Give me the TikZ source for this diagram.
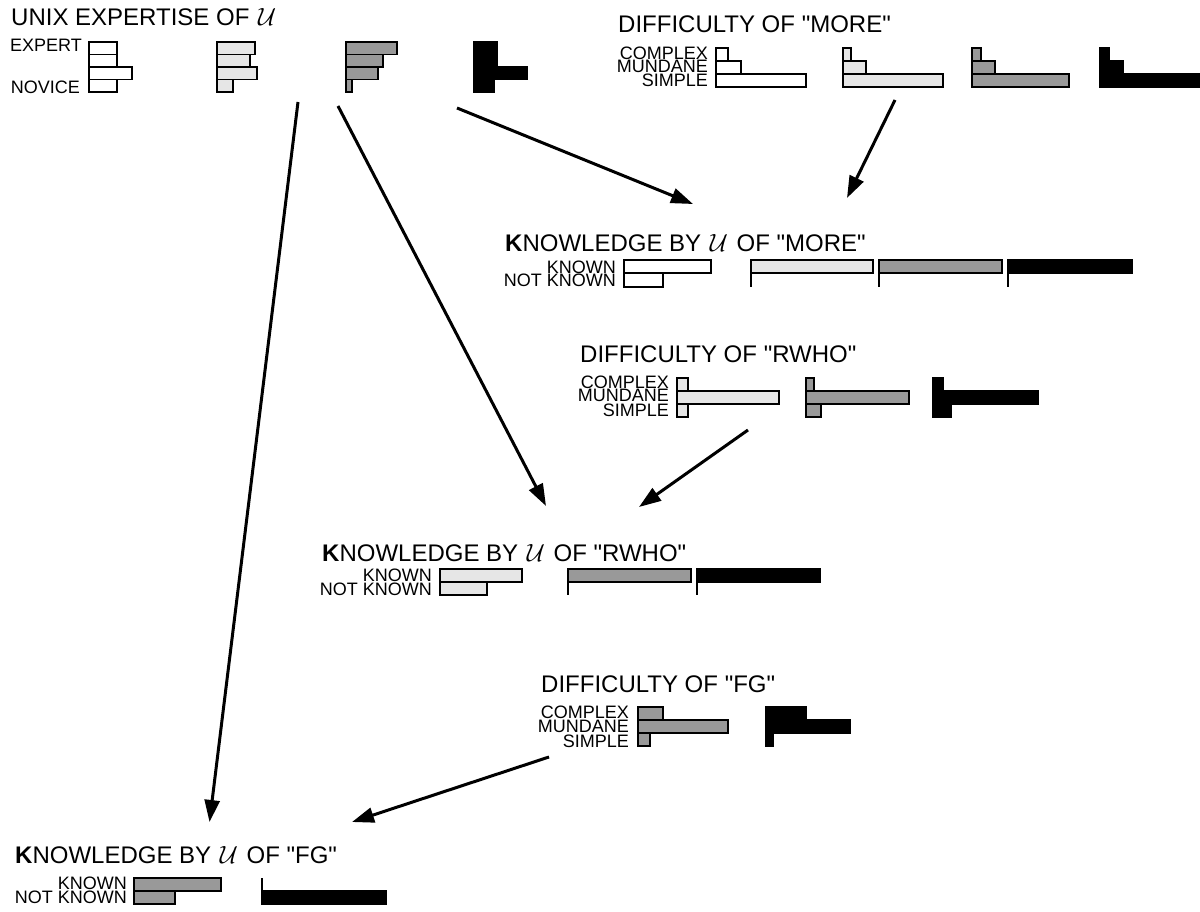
\documentclass[tikz,border=0pt]{standalone}
\usepackage{fontspec}
\setmainfont{Liberation Sans}
\usetikzlibrary{arrows.meta}
\definecolor{lightfill}{HTML}{E6E6E6}
\definecolor{midfill}{HTML}{999999}
\newcommand{\qq}{\textquotedbl}
\newcommand{\UU}{\hspace{2pt}$\mathcal{U}$\hspace{2pt}}
\begin{document}
\begin{tikzpicture}[x=1pt,y=-1pt,
  bar/.style={draw=black,line width=1.8pt},
  wbar/.style={bar,fill=white},
  lbar/.style={bar,fill=lightfill},
  gbar/.style={bar,fill=midfill},
  bbar/.style={bar,fill=black},
  tick/.style={line width=1.8pt},
  ttl/.style={font=\fontsize{24}{28}\selectfont,anchor=base west,inner sep=0pt},
  lbl/.style={font=\fontsize{18}{18}\selectfont,anchor=base east,inner sep=0pt},
  arr/.style={line width=3pt,-{Triangle[length=22pt,width=15pt]}}]
\useasboundingbox (0,0) rectangle (1200,912);

% ---------- UNIX expertise ----------
\node[ttl] (t1) at (11,26) {UNIX EXPERTISE OF \UU{}};
\node[lbl] (l1a) at (82,52) {EXPERT};
\node[lbl] (l1b) at (80,94) {NOVICE};
\draw[wbar] (89,42) rectangle (117,54.5);
\draw[wbar] (89,54.5) rectangle (117,67);
\draw[wbar] (89,67) rectangle (132,79.5);
\draw[wbar] (89,79.5) rectangle (117,92);
\draw[lbar] (217,42) rectangle (255,54.5);
\draw[lbar] (217,54.5) rectangle (250,67);
\draw[lbar] (217,67) rectangle (257,79.5);
\draw[lbar] (217,79.5) rectangle (233,92);
\draw[gbar] (346,42) rectangle (397,54.5);
\draw[gbar] (346,54.5) rectangle (383,67);
\draw[gbar] (346,67) rectangle (378,79.5);
\draw[gbar] (346,79.5) rectangle (352,92);
\draw[bbar] (474,42) rectangle (497,54.5);
\draw[bbar] (474,54.5) rectangle (497,67);
\draw[bbar] (474,67) rectangle (527,79.5);
\draw[bbar] (474,79.5) rectangle (494,92);

% ---------- Difficulty of MORE ----------
\node[ttl] (t2) at (618,33) {DIFFICULTY OF \qq MORE\qq};
\node[lbl] (l2a) at (708,60) {COMPLEX};
\node[lbl] (l2b) at (708,73) {MUNDANE};
\node[lbl] (l2c) at (708,87) {SIMPLE};
\draw[wbar] (716,48) rectangle (728,61);
\draw[wbar] (716,61) rectangle (741,74);
\draw[wbar] (716,74) rectangle (806,87);
\draw[lbar] (843,48) rectangle (851,61);
\draw[lbar] (843,61) rectangle (866,74);
\draw[lbar] (843,74) rectangle (943,87);
\draw[gbar] (972,48) rectangle (981,61);
\draw[gbar] (972,61) rectangle (995,74);
\draw[gbar] (972,74) rectangle (1069,87);
\draw[bbar] (1100,48) rectangle (1109,61);
\draw[bbar] (1100,61) rectangle (1123,74);
\draw[bbar] (1100,74) rectangle (1199,87);

% ---------- Knowledge of MORE ----------
\node[ttl] (t3) at (505,252) {\textbf{K}NOWLEDGE BY \UU{} OF \qq MORE\qq};
\node[lbl] (l3a) at (616,273) {KNOWN};
\node[lbl] (l3b) at (616,287) {NOT KNOWN};
\draw[wbar] (624,260) rectangle (711,273.3);
\draw[wbar] (624,273.3) rectangle (663,286.7);
\draw[lbar] (751,260) rectangle (873,273.3);
\draw[tick] (751,273.3) -- (751,286.7);
\draw[gbar] (879,260) rectangle (1002,273.3);
\draw[tick] (879,273.3) -- (879,286.7);
\draw[bbar] (1008,260) rectangle (1132,273.3);
\draw[tick] (1008,273.3) -- (1008,286.7);

% ---------- Difficulty of RWHO ----------
\node[ttl] (t4) at (580,362) {DIFFICULTY OF \qq RWHO\qq};
\node[lbl] (l4a) at (669,388) {COMPLEX};
\node[lbl] (l4b) at (669,401) {MUNDANE};
\node[lbl] (l4c) at (669,416) {SIMPLE};
\draw[lbar] (677,378) rectangle (688,391);
\draw[lbar] (677,391) rectangle (779,404);
\draw[lbar] (677,404) rectangle (688,417);
\draw[gbar] (806,378) rectangle (814,391);
\draw[gbar] (806,391) rectangle (909,404);
\draw[gbar] (806,404) rectangle (821,417);
\draw[bbar] (933,378) rectangle (943,391);
\draw[bbar] (933,391) rectangle (1038,404);
\draw[bbar] (933,404) rectangle (951,417);

% ---------- Knowledge of RWHO ----------
\node[ttl] (t5) at (322,561) {\textbf{K}NOWLEDGE BY \UU{} OF \qq RWHO\qq};
\node[lbl] (l5a) at (432,581) {KNOWN};
\node[lbl] (l5b) at (432,595) {NOT KNOWN};
\draw[lbar] (440,569) rectangle (522,582);
\draw[lbar] (440,582) rectangle (487,595);
\draw[gbar] (568,569) rectangle (691,582);
\draw[tick] (568,582) -- (568,595);
\draw[bbar] (697,569) rectangle (820,582);
\draw[tick] (697,582) -- (697,595);

% ---------- Difficulty of FG ----------
\node[ttl] (t6) at (541,692) {DIFFICULTY OF \qq FG\qq};
\node[lbl] (l6a) at (629,718) {COMPLEX};
\node[lbl] (l6b) at (629,732) {MUNDANE};
\node[lbl] (l6c) at (629,747) {SIMPLE};
\draw[gbar] (638,707) rectangle (663,720);
\draw[gbar] (638,720) rectangle (728,733);
\draw[gbar] (638,733) rectangle (650,746);
\draw[bbar] (766,707) rectangle (806,720);
\draw[bbar] (766,720) rectangle (850,733);
\draw[bbar] (766,733) rectangle (773,746);

% ---------- Knowledge of FG ----------
\node[ttl] (t7) at (15,863) {\textbf{K}NOWLEDGE BY \UU{} OF \qq FG\qq};
\node[lbl] (l7a) at (127,889) {KNOWN};
\node[lbl] (l7b) at (127,903) {NOT KNOWN};
\draw[gbar] (134,878) rectangle (221,891);
\draw[gbar] (134,891) rectangle (175,904);
\draw[tick] (262,878) -- (262,891);
\draw[bbar] (262,891) rectangle (386,904);

% ---------- connectors ----------
\coordinate (aS) at (298,102);
\coordinate (aE) at (209.5,822);
\coordinate (bS) at (338,106);
\coordinate (bE) at (546,506);
\coordinate (cS) at (457,108);
\coordinate (cE) at (693,204);
\coordinate (dS) at (895,100);
\coordinate (dE) at (847,198);
\coordinate (eS) at (748,430);
\coordinate (eE) at (639,507);
\coordinate (fS) at (549,757);
\coordinate (fE) at (352,822);
\draw[arr] (aS) -- (aE);
\draw[arr] (bS) -- (bE);
\draw[arr] (cS) -- (cE);
\draw[arr] (dS) -- (dE);
\draw[arr] (eS) -- (eE);
\draw[arr] (fS) -- (fE);
\end{tikzpicture}
\end{document}
